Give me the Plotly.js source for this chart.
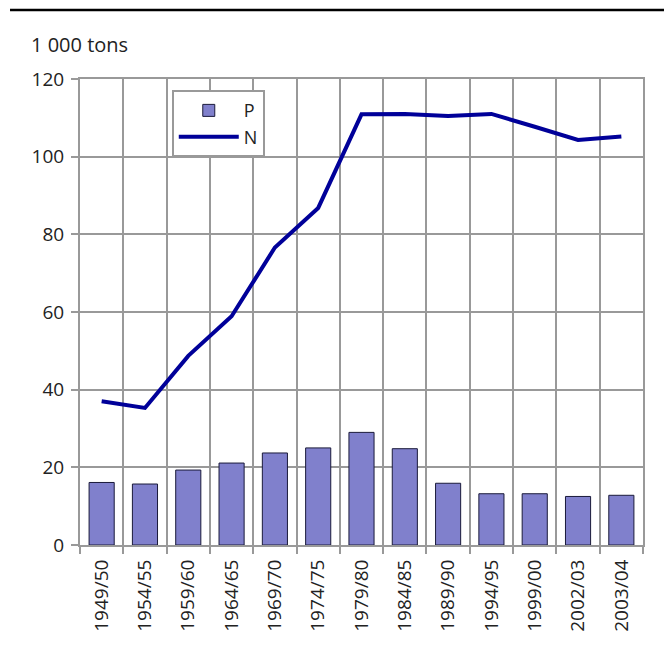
<!DOCTYPE html>
<html>
<head>
<meta charset="utf-8">
<script src="https://cdn.plot.ly/plotly-3.0.1.min.js"></script>
<style>
  html, body { margin: 0; padding: 0; background: #fff; }
  #chart { width: 666px; height: 652px; }
</style>
</head>
<body>
<div id="chart"></div>
<script>
const years = ["1949/50", "1954/55", "1959/60", "1964/65", "1969/70", "1974/75", "1979/80",
               "1984/85", "1989/90", "1994/95", "1999/00", "2002/03", "2003/04"];
const phosphorus = [16.1, 15.7, 19.3, 21.1, 23.7, 25.0, 29.0, 24.8, 15.9, 13.2, 13.2, 12.5, 12.8];
const nitrogen = [37.0, 35.3, 48.7, 58.9, 76.6, 86.8, 110.9, 111.0, 110.5, 111.0, 107.7, 104.3, 105.2];
const yTicks = [0, 20, 40, 60, 80, 100, 120];

const grid = "#999999";
const font = "Open Sans, sans-serif";

const traces = [
  {
    type: "bar",
    name: "P",
    x: years,
    y: phosphorus,
    marker: { color: "#8080cc", line: { color: "#1a1a3a", width: 1 } },
    hoverinfo: "x+y"
  },
  {
    type: "scatter",
    mode: "lines",
    name: "N",
    x: years,
    y: nitrogen,
    line: { color: "#000099", width: 4 },
    hoverinfo: "x+y"
  }
];

const layout = {
  width: 666,
  height: 652,
  margin: { l: 80, r: 23, t: 79, b: 107 },
  paper_bgcolor: "#fff",
  plot_bgcolor: "#fff",
  font: { family: font, size: 19, color: "#222" },
  bargap: 0.42,
  showlegend: true,
  legend: {
    x: 0.163, y: 0.976, xanchor: "left", yanchor: "top",
    bordercolor: grid, borderwidth: 2, bgcolor: "#fff",
    font: { family: font, size: 18, color: "#222" },
    itemwidth: 60,
    entrywidth: 122,
    tracegroupgap: 0
  },
  xaxis: {
    type: "category",
    tickson: "boundaries",
    ticks: "outside", ticklen: 7, tickwidth: 2, tickcolor: grid,
    tickangle: -90,
    ticklabelstandoff: 5,
    showgrid: true, gridcolor: grid, gridwidth: 2,
    showline: true, linecolor: grid, linewidth: 2, mirror: true,
    fixedrange: true
  },
  yaxis: {
    range: [0, 120],
    tickvals: yTicks,
    ticks: "outside", ticklen: 7, tickwidth: 2, tickcolor: grid,
    ticklabelstandoff: 3,
    showgrid: true, gridcolor: grid, gridwidth: 2,
    showline: true, linecolor: grid, linewidth: 2, mirror: true,
    zeroline: false,
    fixedrange: true
  },
  shapes: [
    {
      type: "line", xref: "paper", yref: "paper",
      x0: -0.1243, x1: 1.0373, y0: 1.148, y1: 1.148,
      line: { color: "#000", width: 2.5 }
    }
  ],
  annotations: [
    {
      text: "1 000 tons", xref: "paper", yref: "paper",
      x: -0.0906, y: 1.073, xanchor: "left", yanchor: "middle",
      showarrow: false, font: { family: font, size: 20, color: "#222" }
    }
  ]
};

Plotly.newPlot("chart", traces, layout, { displayModeBar: false, staticPlot: true });
</script>
</body>
</html>
